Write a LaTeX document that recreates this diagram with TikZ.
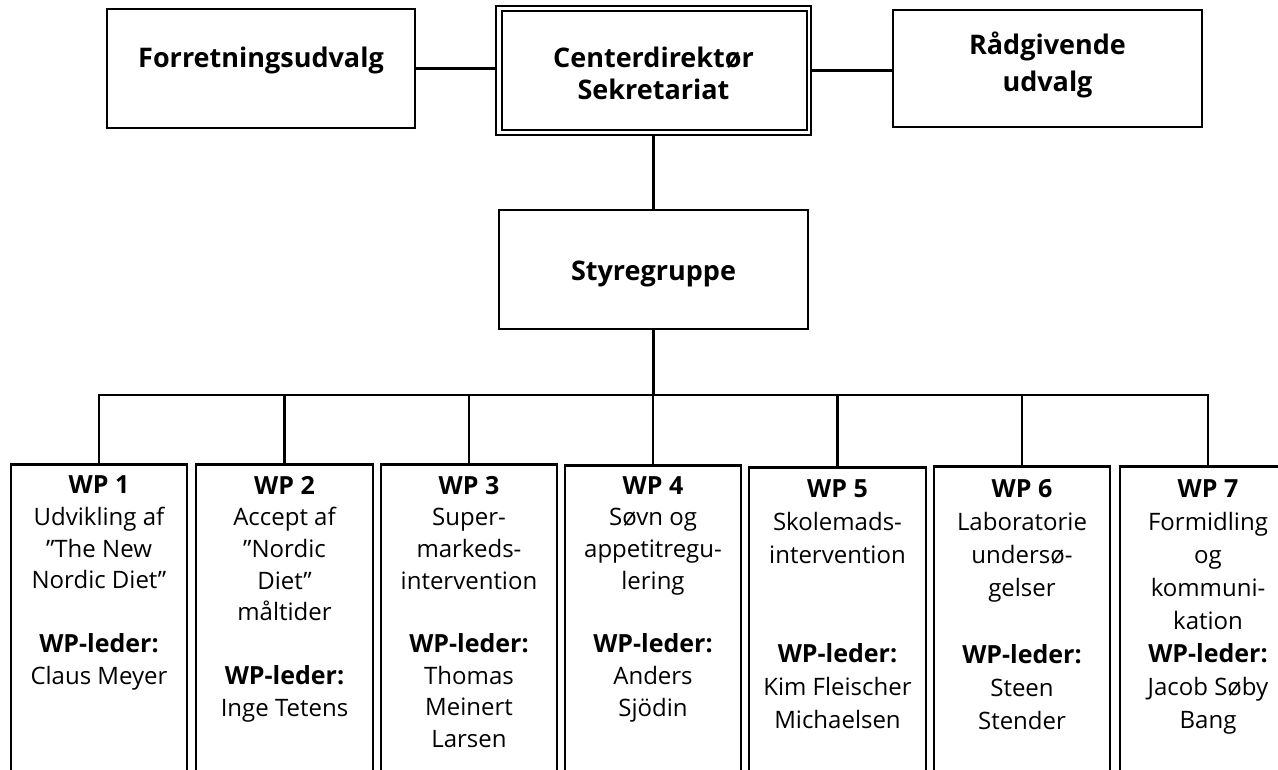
\documentclass[tikz,border=0pt]{standalone}
\usepackage{fontspec}
\setmainfont{Open Sans}
\newcommand{\wpb}[1]{{\bfseries\fontsize{25}{31.7}\selectfont #1}}
\begin{document}
\begin{tikzpicture}[x=1pt,y=-1pt,
  topbox/.style={draw,line width=2.5pt,inner sep=0pt},
  toptext/.style={inner sep=0pt,anchor=base,align=center,font=\bfseries\fontsize{27}{32}\selectfont},
  conn/.style={line width=2.2pt},
  wpbox/.style={draw,line width=2.5pt,minimum width=176pt,minimum height=340pt,anchor=north,inner sep=0pt},
  wptext/.style={anchor=base,inner sep=0pt,align=center,font=\fontsize{24}{31.7}\selectfont},
  wptextb/.style={anchor=base,inner sep=0pt,align=center,font=\fontsize{24}{33}\selectfont}]
\useasboundingbox (0,0) rectangle (1278,770);
\fill[white] (0,0) rectangle (1278,770);
\clip (0,0) rectangle (1278,770);

% top row
\node[topbox,minimum width=308pt,minimum height=119pt] (f) at (261,68.5) {};
\node[toptext] (ft) at (261,68) {Forretningsudvalg};
\node[topbox,line width=2pt,minimum width=315pt,minimum height=129pt] (c) at (653.5,70.5) {};
\draw[line width=2.5pt] ([shift={(7,6)}]c.north west) rectangle ([shift={(-5,-6)}]c.south east);
\node[toptext] (ct) at (653.5,100) {Centerdirektør\\Sekretariat};
\node[topbox,minimum width=309pt,minimum height=117pt] (r) at (1047.5,68.5) {};
\node[toptext,font=\bfseries\fontsize{27}{37}\selectfont] (rt) at (1047.5,92) {Rådgivende\\udvalg};

\draw[conn] (f.east) -- (f.east -| c.west);
\draw[conn] (c.east) -- (c.east -| r.west);

% steering group
\node[topbox,minimum width=309pt,minimum height=119pt] (s) at (653.5,269.5) {};
\node[toptext] (st) at (653.5,280) {Styregruppe};
\draw[conn] (c.south) -- (s.north);

% work packages
\node[wpbox] (wp1) at (99,463) {};
\node[wpbox,minimum width=177pt] (wp2) at (284.5,463) {};
\node[wpbox] (wp3) at (469,463) {};
\node[wpbox] (wp4) at (653,464) {};
\node[wpbox,minimum width=177pt] (wp5) at (837.5,466) {};
\node[wpbox] (wp6) at (1022,465) {};
\node[wpbox] (wp7) at (1208,465) {};

\coordinate (bus) at (653.5,395);
\draw[conn] (s.south) -- (bus);
\foreach \i in {1,...,7} {\draw[conn] (bus) -| (wp\i.north);}

% texts (anchor base = baseline of the last line)
\node[wptext] (t1) at (99,684) {\wpb{WP 1}\\Udvikling af\\”The New\\Nordic Diet”\\[31.7pt]\wpb{WP-leder:}\\Claus Meyer};
\node[wptext] (t2) at (284.5,716) {\wpb{WP 2}\\Accept af\\”Nordic\\Diet”\\måltider\\[31.7pt]\wpb{WP-leder:}\\Inge Tetens};
\node[wptext] (t3) at (469,747.6) {\wpb{WP 3}\\Super-\\markeds-\\intervention\\[31.7pt]\wpb{WP-leder:}\\Thomas\\Meinert\\Larsen};
\node[wptext] (t4) at (653,716) {\wpb{WP 4}\\Søvn og\\appetitregu-\\lering\\[31.7pt]\wpb{WP-leder:}\\Anders\\Sjödin};
\node[wptextb] (t5) at (837.5,728) {\wpb{WP 5}\\Skolemads-\\intervention\\[66pt]\wpb{WP-leder:}\\Kim Fleischer\\Michaelsen};
\node[wptextb] (t6) at (1022,729) {\wpb{WP 6}\\Laboratorie\\undersø-\\gelser\\[34pt]\wpb{WP-leder:}\\Steen\\Stender};
\node[wptextb] (t7) at (1208,728) {\wpb{WP 7}\\Formidling\\og\\kommuni-\\kation\\\wpb{WP-leder:}\\Jacob Søby\\Bang};
\end{tikzpicture}
\end{document}
